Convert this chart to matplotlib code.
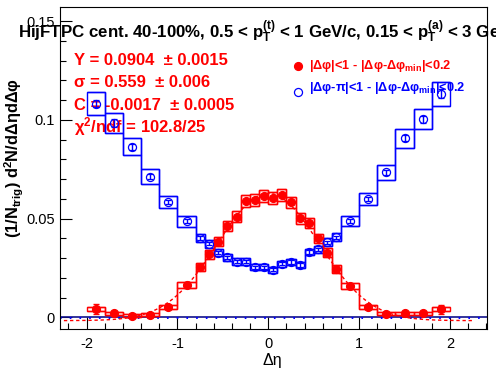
import numpy as np
import matplotlib
matplotlib.use('Agg')
import matplotlib.pyplot as plt
from matplotlib.ticker import MultipleLocator, FuncFormatter

plt.rcParams['font.family'] = ['Liberation Sans', 'DejaVu Sans']
plt.rcParams['mathtext.fontset'] = 'custom'
plt.rcParams['mathtext.rm'] = 'Liberation Sans'
plt.rcParams['mathtext.bf'] = 'Liberation Sans:bold'
plt.rcParams['mathtext.it'] = 'Liberation Sans:italic'
plt.rcParams['mathtext.sf'] = 'Liberation Sans'
plt.rcParams['axes.unicode_minus'] = False
plt.rcParams['lines.scale_dashes'] = False

# bin edges / centres (delta eta)
edges = [-2.0, -1.8, -1.6, -1.4, -1.2, -1.0, -0.8, -0.7, -0.6, -0.5, -0.4, -0.3, -0.2, -0.1,
         0.0, 0.1, 0.2, 0.3, 0.4, 0.5, 0.6, 0.7, 0.8, 1.0, 1.2, 1.4, 1.6, 1.8, 2.0]
deta = [-1.9, -1.7, -1.5, -1.3, -1.1, -0.9, -0.75, -0.65, -0.55, -0.45, -0.35, -0.25, -0.15, -0.05,
        0.05, 0.15, 0.25, 0.35, 0.45, 0.55, 0.65, 0.75, 0.9, 1.1, 1.3, 1.5, 1.7, 1.9]

# near side |dphi|<1
red_y = [0.0042, 0.0020, 0.0008, 0.0012, 0.0051, 0.0164, 0.0257, 0.0319, 0.0383, 0.0464, 0.0510, 0.0589,
         0.0595, 0.0615, 0.0606, 0.0620, 0.0583, 0.0502, 0.0479, 0.0400, 0.0327, 0.0245, 0.0159, 0.0051,
         0.0017, 0.0020, 0.0020, 0.0041]
red_err = [0.0024, 0.0012, 0.0009, 0.0009, 0.0010, 0.0008, 0.0007, 0.0007, 0.0007, 0.0007, 0.0007, 0.0007,
           0.0007, 0.0007, 0.0007, 0.0007, 0.0007, 0.0007, 0.0007, 0.0007, 0.0007, 0.0007, 0.0008, 0.0010,
           0.0009, 0.0009, 0.0012, 0.0022]
red_sys = [0.0011, 0.0009, 0.0008, 0.0008, 0.0009, 0.0017, 0.0020, 0.0022, 0.0024, 0.0026, 0.0027, 0.0029,
           0.0029, 0.0030, 0.0030, 0.0030, 0.0029, 0.0027, 0.0026, 0.0024, 0.0022, 0.0020, 0.0017, 0.0009,
           0.0008, 0.0008, 0.0009, 0.0011]

# away side |dphi-pi|<1
blue_y = [0.1083, 0.0985, 0.0865, 0.0713, 0.0584, 0.0486, 0.0402, 0.0372, 0.0328, 0.0304, 0.0282, 0.0282,
          0.0254, 0.0254, 0.0241, 0.0272, 0.0280, 0.0265, 0.0331, 0.0345, 0.0380, 0.0405, 0.0488, 0.0598,
          0.0735, 0.0907, 0.1004, 0.1133]
blue_err = [0.0019, 0.0019, 0.0015, 0.0013, 0.0011, 0.0010, 0.0008, 0.0008, 0.0008, 0.0008, 0.0008, 0.0008,
            0.0008, 0.0008, 0.0008, 0.0008, 0.0008, 0.0008, 0.0008, 0.0008, 0.0008, 0.0008, 0.0010, 0.0011,
            0.0013, 0.0015, 0.0017, 0.0024]
blue_sys = [0.0057, 0.0050, 0.0045, 0.0038, 0.0030, 0.0026, 0.0021, 0.0020, 0.0018, 0.0017, 0.0016, 0.0016,
            0.0015, 0.0015, 0.0015, 0.0015, 0.0016, 0.0015, 0.0017, 0.0018, 0.0020, 0.0021, 0.0026, 0.0031,
            0.0038, 0.0047, 0.0051, 0.0060]

# gaussian fit parameters
fit_Y, fit_sigma, fit_C = 0.0904, 0.559, -0.0017

W, H = 496, 374
fig = plt.figure(figsize=(W / 100, H / 100), dpi=100)
ax = fig.add_axes([60 / W, 1 - 329.3 / H, 426.7 / W, 322.6 / H])
ax.set_xlim(-2.293, 2.404)
ax.set_ylim(-0.0061, 0.1574)


def px(x, y):
    return x / W, 1 - y / H


def draw_sys(vals, sys, col):
    e = np.array(edges)
    v = np.array(vals)
    s = np.array(sys)
    ax.bar(e[:-1], 2 * s, bottom=v - s, width=np.diff(e), align='edge',
           fill=False, edgecolor=col, linewidth=1.0, zorder=3)
    ax.stairs(v + s, e, baseline=None, color=col, linewidth=1.0, zorder=3)
    ax.stairs(v - s, e, baseline=None, color=col, linewidth=1.0, zorder=3)


draw_sys(blue_y, blue_sys, 'blue')
draw_sys(red_y, red_sys, 'red')

# baselines
ax.axhline(0, color='#10108a', linewidth=1.2, zorder=2)
ax.axhline(-0.0004, color='blue', linewidth=1.4, dashes=(1.2, 5.8), zorder=2)

# fit curve
xf = np.linspace(-2.25, 2.25, 400)
yf = fit_Y / (fit_sigma * np.sqrt(2 * np.pi)) * np.exp(-xf**2 / (2 * fit_sigma**2)) + fit_C
ax.plot(xf, yf, color='red', linewidth=1.0, dashes=(2.4, 2.0), zorder=4)

ax.errorbar(deta, blue_y, yerr=blue_err, fmt='o', color='blue', mfc='none', mec='blue',
            ms=5.8, mew=0.9, elinewidth=1.0, capsize=2.5, capthick=1.0, zorder=6)
ax.errorbar(deta, red_y, yerr=red_err, fmt='o', color='red', ms=5.6, elinewidth=1.0,
            capsize=2.5, capthick=1.0, zorder=7)

# axes styling
for sp in ['top', 'right', 'left', 'bottom']:
    ax.spines[sp].set_linewidth(0.8)
ax.xaxis.set_major_locator(MultipleLocator(1))
ax.xaxis.set_minor_locator(MultipleLocator(0.2))
ax.yaxis.set_major_locator(MultipleLocator(0.05))
ax.yaxis.set_minor_locator(MultipleLocator(0.01))
ax.yaxis.set_major_formatter(FuncFormatter(lambda v, p: '%g' % round(v, 4)))
ax.xaxis.set_major_formatter(FuncFormatter(lambda v, p: '%g' % round(v, 4)))
ax.tick_params(which='both', direction='in', top=False, right=False, width=0.8)
ax.tick_params(which='major', length=8.6, labelsize=10.5)
ax.tick_params(axis='y', which='major', pad=3.6)
ax.tick_params(axis='x', which='major', pad=5.5)
ax.tick_params(which='minor', length=4.3)

# title
ax.text(*px(18, 37.7), r'HijFTPC cent. 40-100%, 0.5 < $\mathbf{p_{T}^{(t)}}$ < 1 GeV/c, '
        r'0.15 < $\mathbf{p_{T}^{(a)}}$ < 3 GeV/c', transform=fig.transFigure,
        fontsize=12.2, fontweight='bold', ha='left', va='baseline', clip_on=False, zorder=1)

# fit results
fit_lines = ['Y = 0.0904  ± 0.0015', 'σ = 0.559  ± 0.006', 'C = -0.0017  ± 0.0005',
             r'χ$\mathbf{^{2}}$/ndf = 102.8/25']
for i, s in enumerate(fit_lines):
    ax.text(*px(74, 65 + 22.3 * i), s, transform=fig.transFigure, color='red', fontsize=12,
            fontweight='bold', ha='left', va='baseline', zorder=1)

# legend
ax.plot(*px(298, 66), 'o', color='red', ms=5.6, transform=fig.transFigure, clip_on=False, zorder=5)
ax.text(*px(309, 69), r'|Δφ|<1 - |Δφ-Δφ$\mathbf{_{min}}$|<0.2', transform=fig.transFigure,
        color='red', fontsize=9.2, fontweight='bold', ha='left', va='baseline', zorder=5)
ax.plot(*px(298, 91.5), 'o', color='blue', mfc='none', ms=5.8, mew=0.9,
        transform=fig.transFigure, clip_on=False, zorder=5)
ax.text(*px(309, 90.5), r'|Δφ-π|<1 - |Δφ-Δφ$\mathbf{_{min}}$|<0.2', transform=fig.transFigure,
        color='blue', fontsize=9.2, fontweight='bold', ha='left', va='baseline', zorder=5)

# axis titles
fig.text(*px(14, 158), r'$\mathbf{(1/N_{trig})\ d^{2}N/dΔηdΔφ}$', rotation=90,
         fontsize=11.8, ha='center', va='center')
fig.text(*px(272, 360), 'Δη', fontsize=11.5, ha='center', va='center')

fig.savefig('out.png', dpi=100)
